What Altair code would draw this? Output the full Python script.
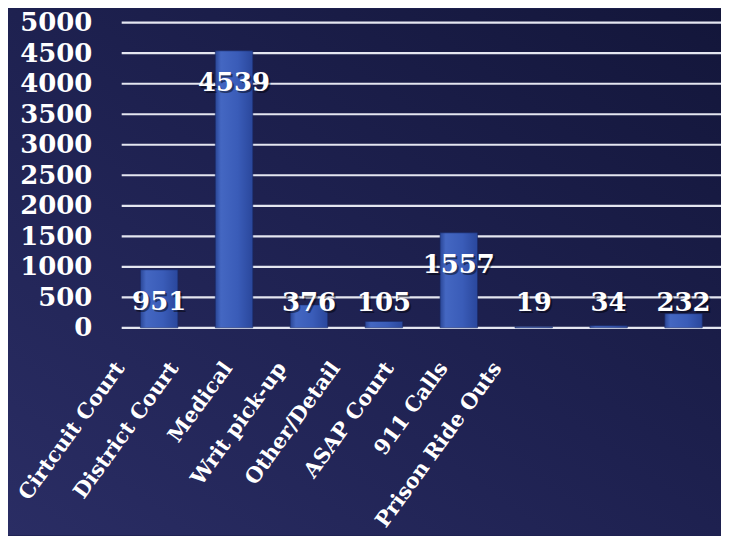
import altair as alt
import pandas as pd

categories = ["Cirtcuit Court", "District Court", "Medical", "Writ pick-up",
              "Other/Detail", "ASAP Court", "911 Calls", "Prison Ride Outs"]
values = [951, 4539, 376, 105, 1557, 19, 34, 232]
y_ticks = [0, 500, 1000, 1500, 2000, 2500, 3000, 3500, 4000, 4500, 5000]

df = pd.DataFrame({"category": categories, "value": values})
grid_df = pd.DataFrame({"t": y_ticks})

W, H = 601, 306
PAD_L, PAD_T, PAD_R, PAD_B = 114, 14, 0, 208
SERIF = "DejaVu Serif"

base = alt.Chart(df)

bg = alt.Chart(pd.DataFrame({"k": [0]})).mark_rect(
    color=alt.LinearGradient(
        gradient="linear", x1=1, y1=0, x2=0, y2=1,
        stops=[alt.GradientStop(offset=0, color="#13163a"),
               alt.GradientStop(offset=0.5, color="#1e2150"),
               alt.GradientStop(offset=1, color="#2a2d64")])
).encode(
    x=alt.value(-PAD_L), x2=alt.value(W + PAD_R),
    y=alt.value(-PAD_T), y2=alt.value(H + PAD_B)
)

xscale = alt.Scale(paddingInner=0.5, paddingOuter=0.25)
yscale = alt.Scale(domain=[0, 5000], nice=False)
yaxis = alt.Axis(values=y_ticks, title=None, domain=False, ticks=False,
                 grid=False, zindex=1, format="d",
                 labelFont=SERIF, labelFontWeight="bold", labelFontSize=26,
                 labelColor="white", labelPadding=30)

grid = alt.Chart(grid_df).mark_rule(color="#e4e6f0", strokeWidth=2.2).encode(
    y=alt.Y("t:Q", scale=yscale, axis=yaxis)
)

bars = base.mark_bar(
    color=alt.LinearGradient(
        gradient="linear", x1=0, y1=0, x2=1, y2=0,
        stops=[alt.GradientStop(offset=0, color="#2a4696"),
               alt.GradientStop(offset=0.15, color="#4467c2"),
               alt.GradientStop(offset=0.6, color="#3a5cb8"),
               alt.GradientStop(offset=1, color="#2a479c")]),
    stroke="#1a2a66", strokeWidth=1, strokeOpacity=0.6
).encode(
    x=alt.X("category:N", sort=None, scale=xscale, axis=None),
    y=alt.Y("value:Q", scale=yscale, axis=yaxis),
)

lab_base = base.transform_calculate(ly="max(datum.value, 930)")

label_shadow = lab_base.mark_text(
    font=SERIF, fontWeight="bold", fontSize=26, color="black", opacity=0.45,
    baseline="middle", align="center", dy=34, dx=2
).encode(
    x=alt.X("category:N", sort=None, scale=xscale, axis=None),
    y=alt.Y("ly:Q", scale=yscale, axis=yaxis),
    text=alt.Text("value:Q"),
)

labels = lab_base.mark_text(
    font=SERIF, fontWeight="bold", fontSize=26, color="white",
    baseline="middle", align="center", dy=32
).encode(
    x=alt.X("category:N", sort=None, scale=xscale, axis=None),
    y=alt.Y("ly:Q", scale=yscale, axis=yaxis),
    text=alt.Text("value:Q"),
)

xlabels = base.mark_text(
    font=SERIF, fontWeight="bold", fontSize=21, color="white",
    align="right", baseline="middle", angle=306
).encode(
    x=alt.X("category:N", sort=None,
            scale=alt.Scale(type="point", range=[-1, 377], padding=0), axis=None),
    y=alt.value(H + 37),
    text="category:N",
)

chart = alt.layer(bg, grid, bars, label_shadow, labels, xlabels).resolve_scale(
    x="independent"
).properties(
    width=W, height=H,
    autosize=alt.AutoSizeParams(type="none"),
    padding={"left": PAD_L, "top": PAD_T, "right": PAD_R, "bottom": PAD_B},
    background="#1d2050",
).configure_view(stroke=None)

chart.save("out.html", embed_options={"renderer": "svg", "actions": False})
